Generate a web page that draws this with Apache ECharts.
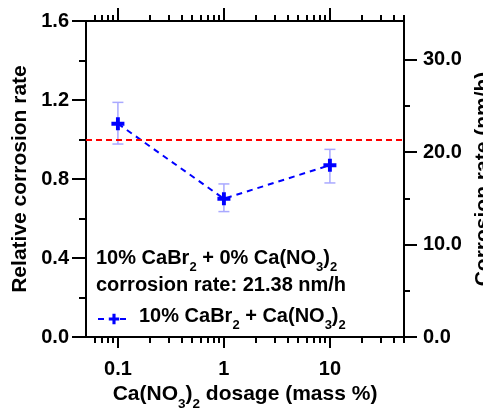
<!DOCTYPE html>
<html><head><meta charset="utf-8">
<script src="https://cdn.jsdelivr.net/npm/echarts@6/dist/echarts.min.js"></script>
<style>html,body{margin:0;padding:0;background:#fff}#c{width:483px;height:409px}</style>
</head><body><div id="c"></div>
<script>
// ---- data ----
const xDosage = [0.1, 1, 10];
const relRate = [1.08, 0.70, 0.87];
const errLow = [0.977, 0.635, 0.78];
const errHigh = [1.188, 0.775, 0.95];
const baseRate = 21.38;          // nm/h, corresponds to relative rate 1.0
const refLevel = 1.0;
const xMajorTicks = [0.1, 1, 10];
const xMinorTicks = [0.06, 0.07, 0.08, 0.09, 0.2, 0.3, 0.4, 0.5, 0.6, 0.7, 0.8, 0.9,
                     2, 3, 4, 5, 6, 7, 8, 9, 20, 30, 40, 50];
const rightMajorTicks = [0, 10, 20, 30];
const rightMinorTicks = [5, 15, 25];
const seriesName = '10% CaBr2 + Ca(NO3)2';

const FONT = "'Liberation Sans', Arial, sans-serif";
const FS = 20;
function makeRich(fs, sub) {
  return {
    n: {fontFamily: FONT, fontSize: fs, fontWeight: 'bold', color: '#000', verticalAlign: 'bottom', padding: [0, 0, 6, 0]},
    s: {fontFamily: FONT, fontSize: sub, fontWeight: 'bold', color: '#000', verticalAlign: 'bottom', padding: [0, 0, 0, 0]},
    g: {fontFamily: FONT, fontSize: fs, width: 4, verticalAlign: 'bottom', padding: [0, 0, 6, 0]}
  };
}
const rich = makeRich(FS, 13);
const richTitle = makeRich(21, 13.5);
const relMax = 1.6;

const chart = echarts.init(document.getElementById('c'), null, {renderer: 'canvas'});
const black = '#000';
const tickLabel = {fontFamily: FONT, fontSize: 20, fontWeight: 'bold', color: black};

function xAxisDef(pos, values, len, showLine, showLabel) {
  return {
    type: 'log', logBase: 10, min: 0.05, max: 50, position: pos, gridIndex: 0,
    axisLine: {show: showLine, onZero: false, lineStyle: {color: black, width: 2}},
    axisTick: {show: true, inside: false, length: len, customValues: values, lineStyle: {color: black, width: 2}},
    axisLabel: showLabel ? Object.assign({show: true, margin: 22, customValues: values,
      formatter: v => String(v)}, tickLabel) : {show: false},
    splitLine: {show: false}, minorTick: {show: false}
  };
}

const option = {
  animation: false,
  backgroundColor: '#fff',
  grid: {left: 86, right: 79, top: 21, bottom: 72, containLabel: false, outerBoundsMode: 'none'},
  xAxis: [
    Object.assign(xAxisDef('bottom', xMajorTicks, 11, true, true), {
      name: '{n|Ca(NO}{s|3}{n|)}{s|2}{n| dosage (mass %)}', nameLocation: 'middle', nameGap: 44,
      nameTextStyle: {rich: richTitle}
    }),
    xAxisDef('bottom', xMinorTicks, 6, false, false),
    xAxisDef('top', xMajorTicks, 13, true, false),
    xAxisDef('top', xMinorTicks, 6, false, false)
  ],
  yAxis: [
    {
      type: 'value', min: 0, max: relMax, interval: 0.4, position: 'left',
      name: 'Relative corrosion rate', nameLocation: 'middle', nameGap: 54, nameRotate: 90,
      nameTextStyle: {fontFamily: FONT, fontSize: 21, fontWeight: 'bold', color: black},
      axisLine: {show: true, lineStyle: {color: black, width: 2}},
      axisTick: {show: true, length: 14, lineStyle: {color: black, width: 2}},
      minorTick: {show: true, splitNumber: 2, length: 7, lineStyle: {color: black, width: 2}},
      axisLabel: Object.assign({margin: 17, formatter: v => v.toFixed(1)}, tickLabel),
      splitLine: {show: false}, minorSplitLine: {show: false}
    },
    {
      type: 'value', min: 0, max: relMax * baseRate, position: 'right',
      name: 'Corrosion rate (nm/h)', nameLocation: 'middle', nameGap: 66, nameRotate: 90,
      nameTextStyle: {fontFamily: FONT, fontSize: 21, fontWeight: 'bold', color: black},
      axisLine: {show: true, lineStyle: {color: black, width: 2}},
      axisTick: {show: true, length: 13, customValues: rightMajorTicks, lineStyle: {color: black, width: 2}},
      axisLabel: Object.assign({margin: 19, customValues: rightMajorTicks, formatter: v => v.toFixed(1)}, tickLabel),
      splitLine: {show: false}
    },
    {
      type: 'value', min: 0, max: relMax * baseRate, position: 'right',
      axisLine: {show: false},
      axisTick: {show: true, length: 6, customValues: rightMinorTicks, lineStyle: {color: black, width: 2}},
      axisLabel: {show: false},
      splitLine: {show: false}
    }
  ],
  legend: {
    data: [seriesName], left: 92, top: 301, itemWidth: 32, itemHeight: 13, itemGap: 5,
    textStyle: {rich: rich},
    formatter: () => '{g| }{n|10% CaBr}{s|2}{n| + Ca(NO}{s|3}{n|)}{s|2}'
  },
  graphic: [
    {type: 'text', left: 96, top: 248, style: {text: '{n|10% CaBr}{s|2}{n| + 0% Ca(NO}{s|3}{n|)}{s|2}', rich: rich}},
    {type: 'text', left: 96, top: 275, style: {text: 'corrosion rate: ' + baseRate.toFixed(2) + ' nm/h',
      font: 'bold ' + FS + 'px ' + FONT, fill: black}}
  ],
  series: [
    {
      type: 'custom', xAxisIndex: 0, yAxisIndex: 0, z: 1, clip: false,
      data: xDosage.map((x, i) => [x, errLow[i], errHigh[i]]),
      encode: {x: 0, y: [1, 2]},
      renderItem: function (params, api) {
        const x = api.value(0);
        const lo = api.coord([x, api.value(1)]);
        const hi = api.coord([x, api.value(2)]);
        const w = 5.5;
        const st = {stroke: '#a9a9ff', lineWidth: 1.5};
        return {type: 'group', children: [
          {type: 'line', shape: {x1: lo[0], y1: lo[1], x2: hi[0], y2: hi[1]}, style: st},
          {type: 'line', shape: {x1: lo[0] - w, y1: lo[1], x2: lo[0] + w, y2: lo[1]}, style: st},
          {type: 'line', shape: {x1: hi[0] - w, y1: hi[1], x2: hi[0] + w, y2: hi[1]}, style: st}
        ]};
      }
    },
    {
      name: seriesName, type: 'line', xAxisIndex: 0, yAxisIndex: 0, z: 3,
      data: xDosage.map((x, i) => [x, relRate[i]]),
      symbol: 'path://M4.2,0H7.8V4.2H12V7.8H7.8V12H4.2V7.8H0V4.2H4.2Z', symbolSize: 13,
      itemStyle: {color: '#0000ff'},
      lineStyle: {color: '#0000ff', width: 2, type: [6, 5]},
      markLine: {
        silent: true, symbol: 'none', label: {show: false},
        lineStyle: {color: '#ff0000', width: 2, type: [6, 4]},
        data: [{yAxis: refLevel}]
      }
    }
  ]
};
chart.setOption(option);
</script></body></html>
